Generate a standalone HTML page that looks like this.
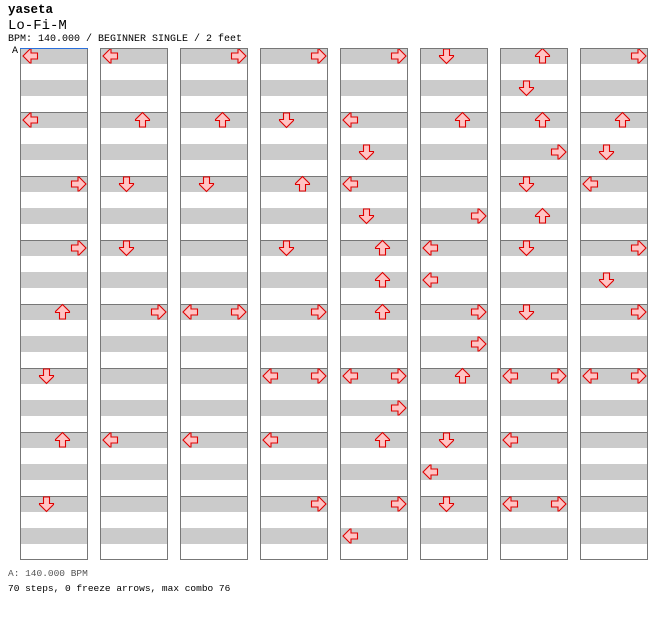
<!DOCTYPE html>
<html><head><meta charset="utf-8"><style>
body{margin:0;background:#fff;width:672px;height:620px;overflow:hidden;font-family:"Liberation Mono",monospace;}
.t{position:absolute;white-space:pre;color:#000;}
</style></head><body>
<div class="t" style="left:8px;top:3px;font-size:12.5px;font-weight:bold;">yaseta</div>
<div class="t" style="left:8px;top:18px;font-size:14px;">Lo-Fi-M</div>
<div class="t" style="left:8px;top:34px;font-size:10px;">BPM: 140.000 / BEGINNER SINGLE / 2 feet</div>
<div class="t" style="left:12px;top:46px;font-size:10px;">A</div>
<div class="t" style="left:8px;top:568px;font-size:9.5px;color:#555;">A: 140.000 BPM</div>
<div class="t" style="left:8px;top:583px;font-size:9.5px;">70 steps, 0 freeze arrows, max combo 76</div>
<svg id="chart" width="672" height="620" style="position:absolute;left:0;top:0;"></svg>
<script>
// lanes: 0=left,1=down,2=up,3=right ; each note = [slot(0-3 within measure), lane]
const columns = [
 [[[0,0]],[[0,0]],[[0,3]],[[0,3]],[[0,2]],[[0,1]],[[0,2]],[[0,1]]],
 [[[0,0]],[[0,2]],[[0,1]],[[0,1]],[[0,3]],[],[[0,0]],[]],
 [[[0,3]],[[0,2]],[[0,1]],[],[[0,0],[0,3]],[],[[0,0]],[]],
 [[[0,3]],[[0,1]],[[0,2]],[[0,1]],[[0,3]],[[0,0],[0,3]],[[0,0]],[[0,3]]],
 [[[0,3]],[[0,0],[2,1]],[[0,0],[2,1]],[[0,2],[2,2]],[[0,2]],[[0,0],[0,3],[2,3]],[[0,2]],[[0,3],[2,0]]],
 [[[0,1]],[[0,2]],[[2,3]],[[0,0],[2,0]],[[0,3],[2,3]],[[0,2]],[[0,1],[2,0]],[[0,1]]],
 [[[0,2],[2,1]],[[0,2],[2,3]],[[0,1],[2,2]],[[0,1]],[[0,1]],[[0,0],[0,3]],[[0,0]],[[0,0],[0,3]]],
 [[[0,3]],[[0,2],[2,1]],[[0,0]],[[0,3],[2,1]],[[0,3]],[[0,0],[0,3]],[],[]]
];
const svg=document.getElementById('chart');
const NS='http://www.w3.org/2000/svg';
const colX=c=>20+80*c, measY=m=>48+64*m, laneX=l=>10.5+16*l, slotY=s=>8+16*s;
function mk(tag,attrs){const e=document.createElementNS(NS,tag);for(const k in attrs)e.setAttribute(k,attrs[k]);return e;}
const rot=[0,-90,90,180];
const arrowPath='M-7.5,0 L-0.5,-7 L0.5,-7 L0.5,-3 L7,-3 L7,3 L0.5,3 L0.5,7 L-0.5,7 Z';
columns.forEach((col,c)=>{
  const g=mk('g',{});
  
  
  svg.appendChild(g);
  col.forEach((notes,m)=>{
    const x=colX(c), y=measY(m);
    const r=mk('rect',{x:x,y:y,width:68,height:64,fill:'#fff'});
    
    
    g.appendChild(r);
    for(let s=0;s<2;s++){g.appendChild(mk('rect',{x:x,y:y+32*s,width:68,height:16,fill:'#cbcbcb'}));}
    g.appendChild(mk('line',{x1:x,y1:y+0.5,x2:x+68,y2:y+0.5,stroke:'#777','stroke-width':1}));
    notes.forEach(n=>{
      const a=mk('path',{d:arrowPath,fill:'#ffc4c4',stroke:'#e00000','stroke-width':1.1,'stroke-linejoin':'miter',
        transform:'translate('+(x+laneX(n[1]))+','+(y+slotY(n[0]))+') rotate('+rot[n[1]]+')'});
      
      
      g.appendChild(a);
    });
  });
  const x=colX(c);
  g.appendChild(mk('rect',{x:x+0.5,y:48.5,width:67,height:511,fill:'none',stroke:'#777','stroke-width':1}));
  g.appendChild(mk('line',{x1:x,y1:559.5,x2:x+68,y2:559.5,stroke:'#777','stroke-width':1}));
});
const bl=mk('line',{x1:20,y1:48.5,x2:88,y2:48.5,stroke:'#2a6fdb','stroke-width':1});


svg.appendChild(bl);
</script>
</body></html>
